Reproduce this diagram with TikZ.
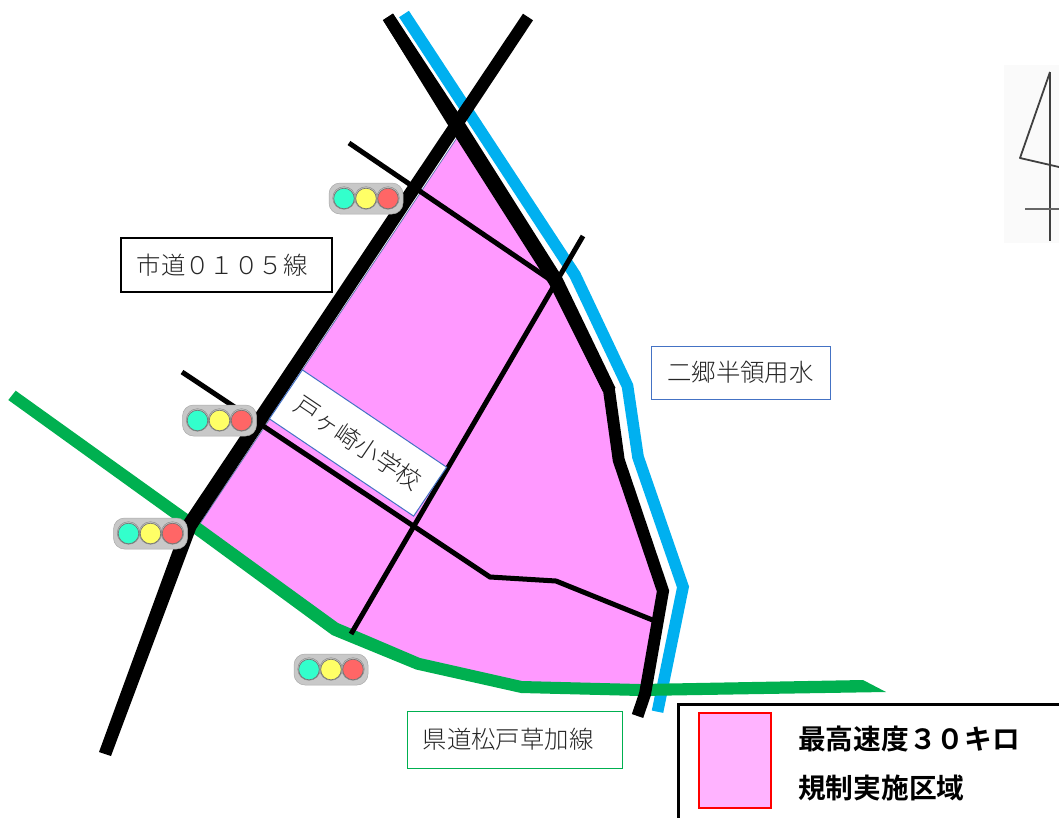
\documentclass[tikz,border=0pt]{standalone}
\usepackage{fontspec}
\setmainfont{Noto Sans CJK JP Light}
\newfontfamily\cjkb{Noto Sans CJK JP Bold}
\definecolor{zonepink}{HTML}{FF99FF}
\definecolor{legendpink}{HTML}{FFB3FF}
\definecolor{riverblue}{HTML}{00B0F0}
\definecolor{roadgreen}{HTML}{00B050}
\definecolor{framegray}{HTML}{C8C8C8}
\definecolor{labelblue}{HTML}{4472C4}
\definecolor{textdark}{HTML}{262626}
\tikzset{
  majorroad/.style={draw=black,line width=12pt,line join=miter,miter limit=10},
  minorroad/.style={draw=black,line width=5pt,line join=miter},
  river/.style={draw=riverblue,line width=11.7pt,line join=miter},
  labelbox/.style={draw,fill=white,anchor=center,inner sep=0pt,font=\fontsize{24.4}{24.4}\selectfont,text=textdark},
  signalframe/.style={draw=framegray!85!black,line width=.5pt,fill=framegray,rounded corners=11pt},
  lamp/.style={draw=black!55,line width=.7pt},
  lamprim/.style={draw=black!45,line width=.5pt},
  compass/.style={draw=black!75,line width=1.8pt},
}
% #1 = left edge, #2 = top edge of the signal
\newcommand{\trafficsignal}[2]{%
  \fill[signalframe] (#1,#2) rectangle ++(74,31);
  \foreach \offs in {15,37,59}{\draw[lamprim] (#1+\offs,#2+15) circle (11.3);}
  \draw[lamp,fill={rgb,255:red,51;green,255;blue,204}] (#1+15,#2+15.5) circle (10.3);
  \draw[lamp,fill={rgb,255:red,255;green,255;blue,102}] (#1+37,#2+15.5) circle (10.3);
  \draw[lamp,fill={rgb,255:red,255;green,102;blue,102}] (#1+59,#2+15.5) circle (10.3);
}
\begin{document}
\begin{tikzpicture}[x=1pt,y=-1pt]
\useasboundingbox (0,0) rectangle (1059,817);
% compass
\fill[black!2] (1004,65) rectangle (1059,243);
\draw[compass,line join=round] (1050,72) -- (1020,158) -- (1059,167);
\draw[compass,line width=1.2pt] (1050,72) -- (1050,241);
\draw[compass,draw=black!60] (1025,209) -- (1059,209);
% zone
\draw[fill=zonepink,draw=labelblue!70!gray,line width=.7pt]
  (457.5,137) -- (555,283) -- (610,392) -- (620,462) -- (662,590) -- (642,692)
  -- (522,686) -- (418,662) -- (335,630) -- (197.5,527.5) -- cycle;
% river
\draw[river] (404,14) -- (575,275) -- (627.5,386) -- (638,457) -- (683,587) -- (657.5,711.7);
% prefectural road
\fill[roadgreen] (15.7,390.7) -- (192,517) -- (338,623) -- (420,658) -- (522,681) -- (640,684)
  -- (863,680) -- (886,692) -- (640,696) -- (521,693) -- (416,669.5) -- (332,635) -- (186,528) -- (8.3,400) -- cycle;
% minor roads
\draw[minorroad] (349,143) -- (555,283);
\draw[minorroad] (182,372) -- (415,527) -- (490,577) -- (556,581) -- (655,621);
\draw[minorroad] (583,236) -- (351,634);
% major roads
\fill[black] (523,13.7) -- (533,20.3) -- (196,529) -- (111,756) -- (99,752) -- (183.5,521) -- cycle;
\draw[majorroad] (388,17) -- (555,280) -- (609,390) -- (618.7,460) -- (663,591) -- (645,694) -- (637.5,716);
\fill[black] (383,20) -- (393,13.5) -- (463,120) -- (561.5,276) -- (615.5,388) -- (603,392) -- (549,284) -- (451,130) -- cycle;
% school label
\node[labelbox,draw=labelblue,line width=1pt,minimum width=174pt,minimum height=59pt,rotate=-34] (school) at (358,443) {戸ヶ崎小学校};
% signals
\trafficsignal{329}{183}
\trafficsignal{182.5}{405}
\trafficsignal{113.5}{518}
\trafficsignal{294}{654}
% labels
\node[labelbox,draw=black,line width=1.3pt,minimum width=211pt,minimum height=54pt] (cityroad) at (226.5,265) {\kern-9pt 市道０１０５線};
\node[labelbox,draw=labelblue,line width=1pt,minimum width=179pt,minimum height=53pt] (canal) at (740.5,372.5) {二郷半領用水};
\node[labelbox,draw=roadgreen,line width=1pt,minimum width=215pt,minimum height=57pt] (prefroad) at (514.5,739.5) {\kern-13pt 県道松戸草加線};
% legend
\draw[fill=white,draw=black,line width=3pt] (678.5,704) rectangle (1070,830);
\node[draw=red,line width=2pt,fill=legendpink,minimum width=72pt,minimum height=95pt,inner sep=0pt] (swatch) at (735,760.5) {};
\node[anchor=west,inner sep=0pt,font=\cjkb\fontsize{27.7}{28}\selectfont] (legendA) at (798,739) {最高速度３０キロ};
\node[anchor=west,inner sep=0pt,font=\cjkb\fontsize{27.7}{28}\selectfont] (legendB) at (798,788) {規制実施区域};
\end{tikzpicture}
\end{document}
